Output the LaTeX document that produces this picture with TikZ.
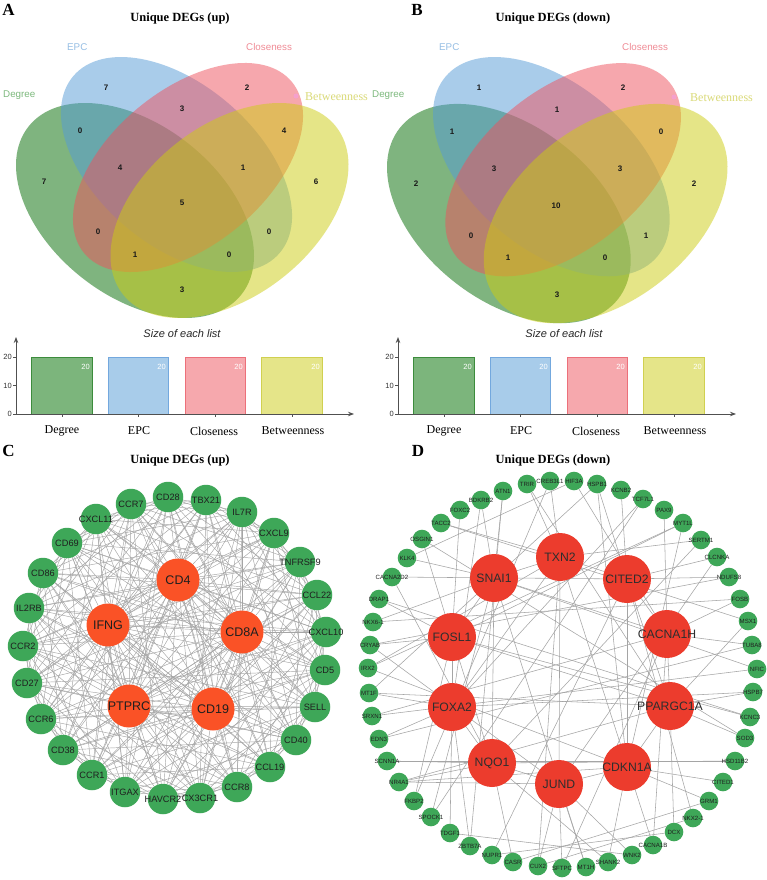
\documentclass[tikz,border=0pt]{standalone}
\usepackage{fontspec}
\setmainfont{Liberation Serif}
\setsansfont{Liberation Sans}
\usetikzlibrary{arrows.meta}
\pgfdeclarelayer{bg}
\pgfdeclarelayer{edges}
\pgfsetlayers{bg,edges,main}
\definecolor{vgreen}{RGB}{0,107,0}
\definecolor{vblue}{RGB}{85,155,215}
\definecolor{vpink}{RGB}{239,81,93}
\definecolor{vyellow}{RGB}{205,205,17}
\definecolor{tgreen}{RGB}{125,185,125}
\definecolor{tblue}{RGB}{150,190,228}
\definecolor{tpink}{RGB}{240,140,150}
\definecolor{tyellow}{RGB}{218,218,120}
\definecolor{bgreenf}{RGB}{124,181,124}
\definecolor{bgreend}{RGB}{60,140,60}
\definecolor{bbluef}{RGB}{168,204,234}
\definecolor{bblued}{RGB}{115,168,222}
\definecolor{bpinkf}{RGB}{246,168,173}
\definecolor{bpinkd}{RGB}{236,112,122}
\definecolor{byellowf}{RGB}{229,229,137}
\definecolor{byellowd}{RGB}{208,208,80}
\definecolor{ngreen}{RGB}{62,167,88}
\definecolor{corange}{RGB}{250,82,38}
\definecolor{dred}{RGB}{236,60,45}
\definecolor{edgegray}{RGB}{165,165,165}
\definecolor{axisgray}{RGB}{80,80,80}
\definecolor{dotpink}{RGB}{245,160,205}

\newcommand{\vennshapes}{%
  \fill[vgreen,fill opacity=0.5,rotate around={-38.2:(135,210.5)}] (135,210.5) ellipse [x radius=135.6pt,y radius=85.6pt];
  \fill[vblue,fill opacity=0.5,rotate around={-40.7:(176.5,164.5)}] (176.5,164.5) ellipse [x radius=135.9pt,y radius=80.2pt];
  \fill[vpink,fill opacity=0.5,rotate around={39.5:(188,167.5)}] (188,167.5) ellipse [x radius=134.6pt,y radius=77.7pt];
  \fill[vyellow,fill opacity=0.5,rotate around={38.2:(229.5,210.5)}] (229.5,210.5) ellipse [x radius=135.6pt,y radius=85.6pt];
}

\newcommand{\barchart}[1]{%
  \draw[fill=bgreenf,draw=bgreend,line width=0.8pt] (31,357) rectangle (92,414);
  \draw[fill=bbluef,draw=bblued,line width=0.8pt] (108,357) rectangle (168,414);
  \draw[fill=bpinkf,draw=bpinkd,line width=0.8pt] (185,357) rectangle (245,414);
  \draw[fill=byellowf,draw=byellowd,line width=0.8pt] (261,357) rectangle (322,414);
  \coordinate (#1-o) at (16,414);
  \coordinate (#1-yt) at (16,337);
  \coordinate (#1-xt) at (354,414);
  \draw[axisline] (#1-o) -- (#1-yt);
  \draw[axisline] (#1-o) -- (#1-xt);
  \foreach \yy/\lab [count=\k] in {357/20,385.5/10,414/0}{
    \draw[axisgray,line width=0.7pt] (13,\yy) -- (16,\yy);
    \node[ticklab,anchor=east] (#1-t\k) at (12,\yy) {\lab};}
  \foreach \xx in {62,138,215,292} \draw[axisgray,line width=0.7pt] (\xx,414) -- (\xx,417);
  \foreach \xx [count=\k] in {90,166,243,320} \node[inlab,anchor=east] (#1-v\k) at (\xx,367) {20};
  \node[catlab] (#1-c1) at (62,431) {Degree};
  \node[catlab] (#1-c2) at (139,431) {EPC};
  \node[catlab] (#1-c3) at (214,431) {Closeness};
  \node[catlab] (#1-c4) at (293,431) {Betweenness};
  \node[sizelab] (#1-size) at (182,334) {Size of each list};
}

\begin{document}
\begin{tikzpicture}[x=1pt,y=-1pt,
  num/.style={font=\sffamily\bfseries\fontsize{8}{8}\selectfont,inner sep=0pt,text=black!90},
  setlab/.style={font=\sffamily\fontsize{9.8}{9.8}\selectfont,inner sep=0pt,anchor=west},
  betw/.style={font=\fontsize{12}{12}\selectfont,inner sep=0pt,anchor=west,text=tyellow},
  title/.style={font=\bfseries\fontsize{12.5}{12.5}\selectfont,inner sep=0pt},
  letter/.style={font=\bfseries\fontsize{17}{17}\selectfont,inner sep=0pt},
  axisline/.style={draw=axisgray,line width=0.9pt,-{Stealth[length=6pt,width=4.5pt]}},
  ticklab/.style={font=\sffamily\fontsize{7.5}{7.5}\selectfont,inner sep=0pt,text=black!80},
  inlab/.style={font=\sffamily\fontsize{7.5}{7.5}\selectfont,inner sep=0pt,text=white},
  catlab/.style={font=\fontsize{12}{12}\selectfont,inner sep=0pt},
  sizelab/.style={font=\sffamily\itshape\fontsize{11}{11}\selectfont,inner sep=0pt,text=black!85},
  gC/.style={circle,fill=ngreen,minimum size=30.5pt,inner sep=0pt},
  hC/.style={circle,fill=corange,minimum size=43pt,inner sep=0pt},
  gD/.style={circle,fill=ngreen,minimum size=18.6pt,inner sep=0pt},
  hD/.style={circle,fill=dred,minimum size=48pt,inner sep=0pt},
  lgC/.style={inner sep=0pt,font=\sffamily\fontsize{9.2}{9.2}\selectfont,text=black!88},
  lhC/.style={inner sep=0pt,font=\sffamily\fontsize{12.5}{12.5}\selectfont,text=black!88},
  lgD/.style={inner sep=0pt,font=\sffamily\fontsize{6.1}{6.1}\selectfont,text=black!88},
  lhD/.style={inner sep=0pt,font=\sffamily\fontsize{12.2}{12.2}\selectfont,text=black!82},
  eC/.style={draw=edgegray,line width=0.45pt},
  eD/.style={draw=edgegray,line width=0.55pt}]
\useasboundingbox (0,0) rectangle (767,880);
\begin{pgfonlayer}{bg}
\fill[white] (0,0) rectangle (767,880);
\end{pgfonlayer}

% ---------------- Panel A ----------------
\node[letter] (LA) at (8.5,10) {A};
\node[title] (TA) at (180,18) {Unique DEGs (up)};
\begin{scope}
\vennshapes
\end{scope}
\node[setlab,text=tgreen] (A-deg) at (3,95) {Degree};
\node[setlab,text=tblue] (A-epc) at (67,47) {EPC};
\node[setlab,text=tpink] (A-clo) at (246,47) {Closeness};
\node[betw] (A-bet) at (305,97) {Betweenness};
\fill[dotpink] (296,96) circle [radius=2.5pt];
\foreach \x/\y/\v [count=\k] in {106/88/7,247/88/2,182/109/3,80/131/0,284/131/4,44/182/7,120/168/4,243/168/1,316/182/6,182/203/5,98/232/0,269/232/0,135/255/1,229/255/0,182/290/3}
  \node[num] (A-n\k) at (\x,\y) {\v};

% ---------------- Panel B ----------------
\node[letter] (LB) at (417,10) {B};
\node[title] (TB) at (553,18) {Unique DEGs (down)};
\begin{scope}[shift={(557,57)},xscale=1.024,yscale=1.02,shift={(-182,-57)}]
\vennshapes
\end{scope}
\node[setlab,text=tgreen] (B-deg) at (372,95) {Degree};
\node[setlab,text=tblue] (B-epc) at (439,47) {EPC};
\node[setlab,text=tpink] (B-clo) at (622,47) {Closeness};
\node[betw] (B-bet) at (690,98) {Betweenness};
\fill[dotpink] (674,97) circle [radius=2.5pt];
\foreach \x/\y/\v [count=\k] in {479/88/1,623/88/2,557/110/1,452/132/1,661/132/0,416/184/2,494/169/3,620/169/3,694/184/2,556/206/10,471/236/0,646/236/1,508/258/1,605/258/0,557/295/3}
  \node[num] (B-n\k) at (\x,\y) {\v};

% ---------------- Bar charts ----------------
\begin{scope}
\barchart{BA}
\end{scope}
\begin{scope}[shift={(382,0)}]
\barchart{BB}
\end{scope}

% ---------------- Panel C ----------------
\node[letter] (LC) at (8.5,451) {C};
\node[title] (TC) at (180,460) {Unique DEGs (up)};
\newcommand{\listC}{c1/131/504/CCR7,c2/168/497/CD28,c3/206/500/TBX21,c4/242/512/IL7R,c5/274/533/CXCL9,c6/300/562/TNFRSF9,c7/317/595/CCL22,c8/326/632/CXCL10,c9/325/670/CD5,c10/315/707/SELL,c11/296/740/CD40,c12/270/767/CCL19,c13/237/787/CCR8,c14/200/798/CX3CR1,c15/163/799/HAVCR2,c16/125/792/ITGAX,c17/92/775/CCR1,c18/63/750/CD38,c19/41/719/CCR6,c20/27/683/CD27,c21/23/646/CCR2,c22/29/608/IL2RB,c23/43/573/CD86,c24/67/543/CD69,c25/96/519/CXCL11}
\newcommand{\listH}{h1/178/580/CD4,h2/108/625/IFNG,h3/242/632/CD8A,h4/129/706/PTPRC,h5/213/709/CD19}
\foreach \n/\x/\y/\t in \listC \node[gC] (\n) at (\x,\y) {};
\foreach \n/\x/\y/\t in \listH \node[hC] (\n) at (\x,\y) {};
\foreach \n/\x/\y/\t in \listC \node[lgC] (\n-t) at (\n) {\t};
\foreach \n/\x/\y/\t in \listH \node[lhC] (\n-t) at (\n) {\t};
\begin{pgfonlayer}{edges}
\foreach \i in {1,...,25}{
  \foreach \h in {1,...,5}{\draw[eC] (c\i) -- (h\h);}
  \foreach \k in {2,3,5,7,9,11}{
    \pgfmathtruncatemacro{\j}{mod(\i+\k-1,25)+1}
    \draw[eC] (c\i) -- (c\j);}
}
\foreach \a/\b in {h1/h2,h1/h3,h1/h4,h1/h5,h2/h3,h2/h4,h2/h5,h3/h4,h3/h5,h4/h5}
  \draw[eC] (\a) -- (\b);
\end{pgfonlayer}

% ---------------- Panel D ----------------
\node[letter] (LD) at (418,451) {D};
\node[title] (TD) at (553,460) {Unique DEGs (down)};
\newcommand{\listD}{d1/481/500/BDKRB2,d2/503/491/ATN1,d3/527/484/TRIR,d4/550/481/CREB3L1,d5/574/481/HIF3A,d6/597/484/HSPB1,d7/621/490/KCNB2,d8/643/499/TCF7L1,d9/664/510/PAX9,d10/683/523/MYT1L,d11/701/540/SERTM1,d12/717/557/CLCNKA,d13/729/577/NDUFS8,d14/740/599/FOSB,d15/748/621/MSX1,d16/752/645/TUBA8,d17/757/669/NFIC,d18/753/692/HSPB7,d19/750/717/KCNC3,d20/745/738/SOD3,d21/735/761/HSD11B2,d22/723/782/CITED1,d23/709/801/GRM1,d24/693/818/NKX2-1,d25/674/832/DCX,d26/653/845/CACNA1B,d27/632/855/WNK2,d28/608/862/SHANK2,d29/586/867/MT1H,d30/562/868/SFTPC,d31/538/866/CUX2,d32/513/862/CASR,d33/492/855/NUPR1,d34/470/846/ZBTB7A,d35/450/833/TDGF1,d36/431/817/SPOCK1,d37/414/801/FKBP2,d38/399/782/NR4A1,d39/387/761/SCNN1A,d40/379/739/EDN3,d41/372/716/SRXN1,d42/369/693/MT1F,d43/368/668/IRX2,d44/370/645/CRYAB,d45/373/622/NKX6-1,d46/379/599/DRAP1,d47/392/577/CACNA2D2,d48/407/558/KLK4,d49/422/539/OSGIN1,d50/441/523/TACC2,d51/460/510/FOXC2}
\newcommand{\listR}{r1/560/557/TXN2,r2/494/578/SNAI1,r3/627/579/CITED2,r4/452/637/FOSL1,r5/667/634/CACNA1H,r6/452/707/FOXA2,r7/670/706/PPARGC1A,r8/492/763/NQO1,r9/559/784/JUND,r10/627/767/CDKN1A}
\foreach \n/\x/\y/\t in \listD \node[gD] (\n) at (\x,\y) {};
\foreach \n/\x/\y/\t in \listR \node[hD] (\n) at (\x,\y) {};
\foreach \n/\x/\y/\t in \listD \node[lgD] (\n-t) at (\n) {\t};
\foreach \n/\x/\y/\t in \listR \node[lhD] (\n-t) at (\n) {\t};
\begin{pgfonlayer}{edges}
\foreach \a/\b in {r1/d4,r1/d3,r1/d50,r1/d11,r1/d31,r1/d43,r1/d26,
  r2/d2,r2/d1,r2/d48,r2/d45,r2/d29,r2/d17,r2/d36,
  r3/d6,r3/d7,r3/d13,r3/d12,r3/d47,r3/d33,r3/d24,
  r4/d51,r4/d49,r4/d46,r4/d44,r4/d37,r4/d10,r4/d19,
  r5/d9,r5/d14,r5/d16,r5/d26,r5/d41,r5/d5,r5/d30,
  r6/d35,r6/d42,r6/d40,r6/d8,r6/d18,r6/d34,r6/d1,
  r7/d15,r7/d18,r7/d20,r7/d25,r7/d38,r7/d42,r7/d3,
  r8/d39,r8/d38,r8/d28,r8/d32,r8/d11,r8/d47,r8/d21,
  r9/d30,r9/d29,r9/d31,r9/d27,r9/d38,r9/d44,r9/d12,
  r10/d28,r10/d22,r10/d23,r10/d38,r10/d43,r10/d6,r10/d10,
  r1/r2,r1/r3,r2/r4,r3/r5,r4/r6,r5/r7,r6/r8,r7/r10,r8/r9,r9/r10,r1/r9,r2/r8,r3/r7,r4/r8,r1/r6,r3/r10,r2/r5,r4/r7,
  d21/d39,d32/d23,d31/d24,d10/d43,d14/d45,d8/d36,d16/d40,d5/d48,d19/d46,d20/d49,d13/d44,d17/d41,d27/d35,d25/d33,d4/d37,d2/d34,d6/d42,d15/d50}
  \draw[eD] (\a) -- (\b);
\end{pgfonlayer}
\end{tikzpicture}
\end{document}
